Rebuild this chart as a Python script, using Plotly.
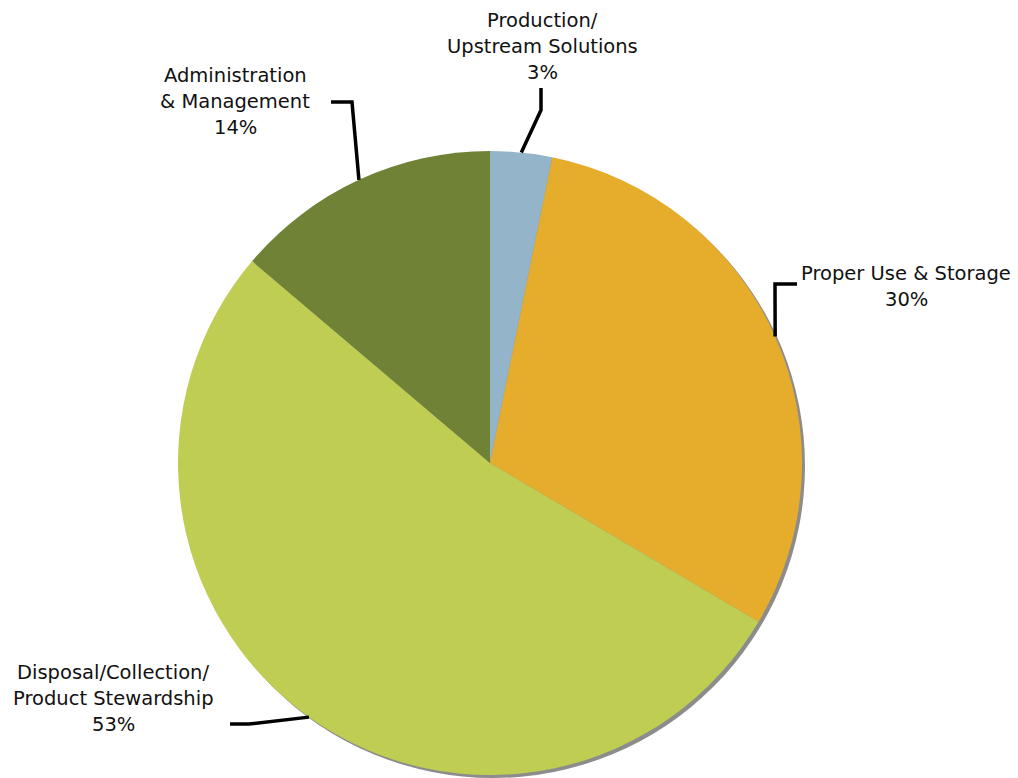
import math
import plotly.graph_objects as go

categories = ["Production/<br>Upstream Solutions", "Proper Use & Storage",
              "Disposal/Collection/<br>Product Stewardship", "Administration<br>& Management"]
values = [3.2, 30.3, 52.7, 13.8]
colors = ["#93B4C9", "#E6AC2C", "#BFCD53", "#6F8235"]

W, H = 1018, 778
cx, cy, R = 490, 463, 312  # pie centre / radius in pixels

# label placement (pixel positions for elbow, line end and text), layout only
label_layout = [
    dict(elbow=(541, 110), end=(541, 88), text=(542, 20)),
    dict(elbow=(775, 284), end=(797, 284), text=(906, 273)),
    dict(elbow=(249, 724), end=(230, 724), text=(113, 672)),
    dict(elbow=(352, 102), end=(331, 102), text=(235, 76)),
]

def px(x):
    return x / W

def py(y):
    return 1 - y / H

fig = go.Figure()

# shadow
fig.add_trace(go.Pie(values=[1], marker=dict(colors=["#8C8C8C"]), textinfo="none",
                     hoverinfo="skip", showlegend=False, sort=False,
                     domain=dict(x=[px(cx - R + 3), px(cx + R + 3)], y=[py(cy + R + 3), py(cy - R + 3)])))

fig.add_trace(go.Pie(labels=categories, values=values, marker=dict(colors=colors),
                     sort=False, direction="clockwise", rotation=0, textinfo="none",
                     showlegend=False,
                     domain=dict(x=[px(cx - R), px(cx + R)], y=[py(cy + R), py(cy - R)])))

total = sum(values)
cum = 0
shapes = []
annotations = []
for cat, v, lay in zip(categories, values, label_layout):
    mid = (cum + v / 2) / total * 2 * math.pi
    cum += v
    ex = cx + R * math.sin(mid)
    ey = cy - R * math.cos(mid)
    bx, by = lay["elbow"]
    tx, ty = lay["end"]
    path = f"M {px(ex)},{py(ey)} L {px(bx)},{py(by)} L {px(tx)},{py(ty)}"
    shapes.append(dict(type="path", xref="paper", yref="paper", path=path,
                       line=dict(color="black", width=3.5)))
    pct = round(v / total * 100)
    lines = cat.split("<br>") + [f"{pct}%"]
    lx, ly = lay["text"]
    for i, line in enumerate(lines):
        annotations.append(dict(x=px(lx), y=py(ly + 26 * i), xref="paper", yref="paper",
                                text=line, showarrow=False, xanchor="center", yanchor="middle",
                                font=dict(family="DejaVu Sans", size=19.5, color="#111111")))

fig.update_layout(width=W, height=H, margin=dict(l=0, r=0, t=0, b=0),
                  paper_bgcolor="white", plot_bgcolor="white",
                  shapes=shapes, annotations=annotations)

fig.write_html("out.html", config={"displayModeBar": False},
               post_script="document.body.style.margin='0';")
